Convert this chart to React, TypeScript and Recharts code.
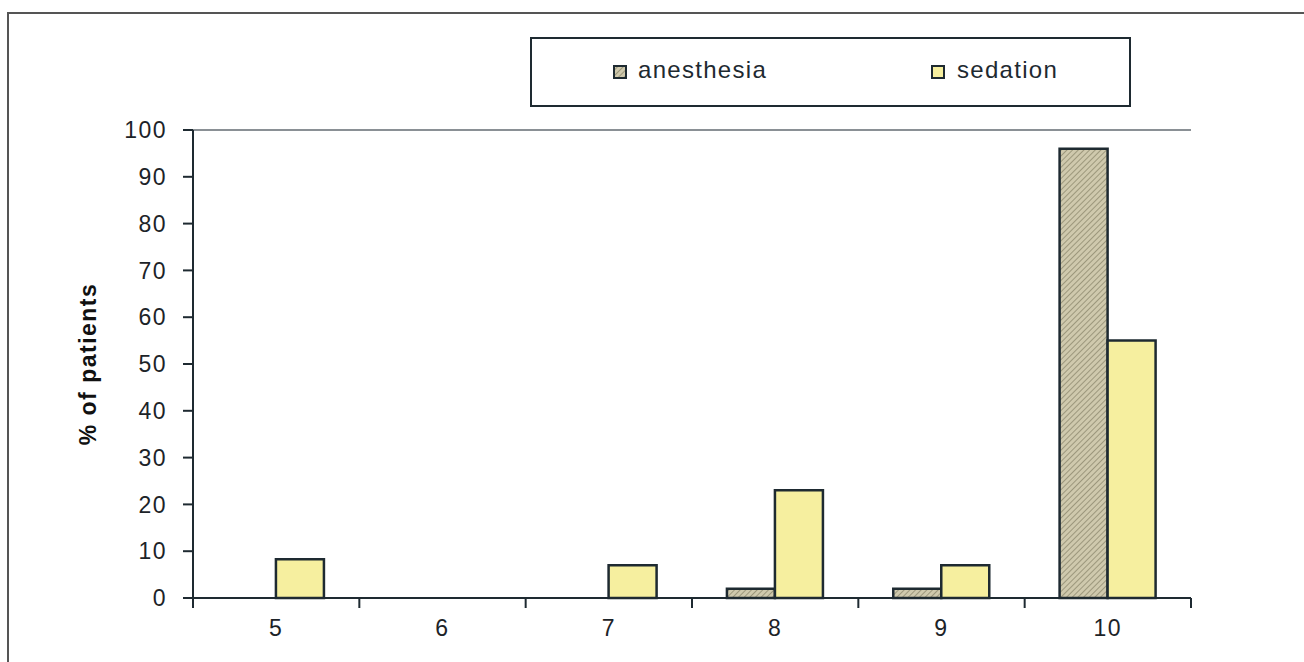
import React from 'react';
import { BarChart, Bar, XAxis, YAxis, ReferenceLine } from 'recharts';

// scores on the x axis
const categories = ['5', '6', '7', '8', '9', '10'];
// % of patients per score
const anesthesia = [0, 0, 0, 2, 2, 96];
const sedation = [8.3, 0, 7, 23, 7, 55];
const yTicks = [0, 10, 20, 30, 40, 50, 60, 70, 80, 90, 100];

const data = categories.map((name, i) => ({
  name,
  anesthesia: anesthesia[i],
  sedation: sedation[i],
}));

const W = 1304;
const H = 662;
const PLOT_LEFT = 193;
const PLOT_RIGHT = 1191;
const BAND = (PLOT_RIGHT - PLOT_LEFT) / categories.length;

const INK = '#1e2a31';
const FONT = 'Arial, "Liberation Sans", sans-serif';
const SEDATION_FILL = '#f6ef9f';

const XTick = (props: any) => {
  const { x, y, payload, index } = props;
  return (
    <g>
      {index === 0 && (
        <line x1={x - BAND / 2} x2={x - BAND / 2} y1={y - 8} y2={y + 2} stroke={INK} strokeWidth={2} />
      )}
      <line x1={x + BAND / 2} x2={x + BAND / 2} y1={y - 8} y2={y + 2} stroke={INK} strokeWidth={2} />
      <text
        x={x}
        y={y + 30}
        textAnchor="middle"
        fontFamily={FONT}
        fontSize={23}
        letterSpacing={1.5}
        fill="#1c2328"
      >
        {payload.value}
      </text>
    </g>
  );
};

const LegendBox = () => (
  <div
    style={{
      position: 'absolute',
      left: 530,
      top: 37,
      width: 597,
      height: 66,
      border: `2px solid ${INK}`,
      background: '#fff',
      fontFamily: FONT,
      fontSize: 24,
      letterSpacing: 1.3,
      color: '#1e2a31',
    }}
  >
    <svg width={14} height={14} style={{ position: 'absolute', left: 81, top: 26 }}>
      <rect x={1} y={1} width={12} height={12} fill="url(#hatch)" stroke={INK} strokeWidth={2} />
    </svg>
    <span style={{ position: 'absolute', left: 106, top: 17 }}>anesthesia</span>
    <svg width={14} height={14} style={{ position: 'absolute', left: 399, top: 26 }}>
      <rect x={1} y={1} width={12} height={12} fill={SEDATION_FILL} stroke={INK} strokeWidth={2} />
    </svg>
    <span style={{ position: 'absolute', left: 425, top: 17 }}>sedation</span>
  </div>
);

export default function App() {
  return (
    <div style={{ position: 'absolute', left: 0, top: 0, width: W, height: H, background: '#fff', overflow: 'hidden' }}>
      {/* outer frame */}
      <div style={{ position: 'absolute', left: 7, top: 12, width: W, height: H, borderTop: '2px solid #555', borderLeft: '2px solid #555' }} />
      <BarChart
        width={W}
        height={H}
        data={data}
        margin={{ top: 130, right: W - PLOT_RIGHT, bottom: 24, left: PLOT_LEFT - 80 }}
        barCategoryGap="21%"
        barGap={0}
      >
        <defs>
          <pattern id="hatch" width="4" height="4" patternUnits="userSpaceOnUse" patternTransform="rotate(45)">
            <rect width="4" height="4" fill="#cfc9ad" />
            <line x1="0" y1="0" x2="0" y2="4" stroke="#8f8a70" strokeWidth="1.6" />
          </pattern>
        </defs>
        <ReferenceLine y={100} stroke="#8a9095" strokeWidth={2} />
        <XAxis
          dataKey="name"
          height={40}
          tickLine={false}
          axisLine={{ stroke: INK, strokeWidth: 2 }}
          tick={<XTick />}
          interval={0}
        />
        <YAxis
          domain={[0, 100]}
          ticks={yTicks}
          width={80}
          tickSize={10}
          tickMargin={16}
          interval={0}
          axisLine={{ stroke: INK, strokeWidth: 2 }}
          tickLine={{ stroke: INK, strokeWidth: 2 }}
          tick={{ fontFamily: FONT, fontSize: 23, letterSpacing: 1.5, fill: '#1c2328' }}
          label={{
            value: '% of patients',
            angle: -90,
            position: 'insideLeft',
            offset: 0,
            dx: -25,
            style: { fontFamily: FONT, fontSize: 23, fontWeight: 'bold', letterSpacing: 1.5, fill: '#111', textAnchor: 'middle' },
          }}
        />
        <YAxis
          yAxisId="right"
          orientation="right"
          width={0}
          domain={[0, 100]}
          tick={false}
          tickLine={false}
          axisLine={{ stroke: '#8a9095', strokeWidth: 2 }}
        />
        <Bar dataKey="anesthesia" fill="url(#hatch)" stroke={INK} strokeWidth={2.5} isAnimationActive={false} />
        <Bar dataKey="sedation" fill={SEDATION_FILL} stroke={INK} strokeWidth={2.5} isAnimationActive={false} />
      </BarChart>
      <LegendBox />
    </div>
  );
}
